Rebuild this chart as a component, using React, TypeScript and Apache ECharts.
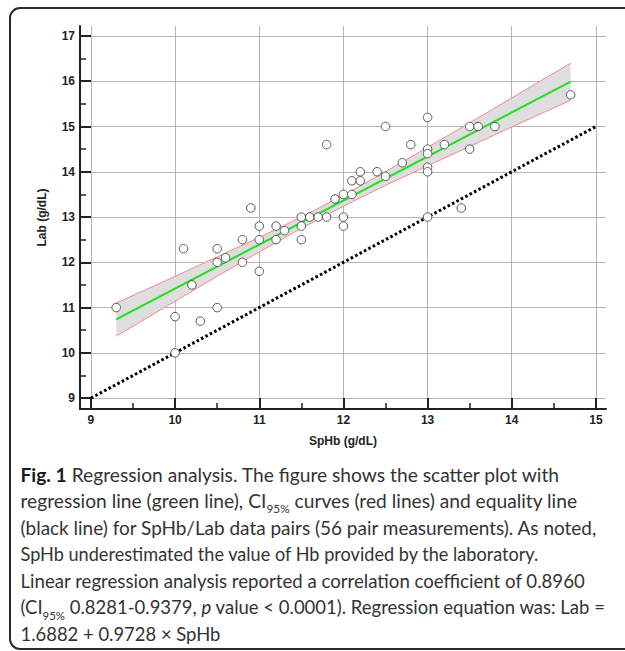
import React, { useEffect, useRef } from 'react';
import * as echarts from 'echarts';

// ---------- data ----------
const xMajorTicks = [9, 10, 11, 12, 13, 14, 15];
const xMinorTicks = [9.5, 10.5, 11.5, 12.5, 13.5, 14.5];
const yMajorTicks = [9, 10, 11, 12, 13, 14, 15, 16, 17];
const yMinorTicks = [9.5, 10.5, 11.5, 12.5, 13.5, 14.5, 15.5, 16.5];

const spHb = [
  9.3, 10.0, 10.0, 10.1, 10.2, 10.3, 10.5, 10.5, 10.5, 10.6,
  10.8, 10.8, 10.9, 11.0, 11.0, 11.0, 11.2, 11.2, 11.3, 11.5,
  11.5, 11.5, 11.6, 11.7, 11.8, 11.8, 11.9, 12.0, 12.0, 12.0,
  12.1, 12.1, 12.2, 12.2, 12.4, 12.5, 12.5, 12.7, 12.8, 13.0,
  13.0, 13.0, 13.0, 13.0, 13.0, 13.2, 13.4, 13.5, 13.5, 13.6,
  13.8, 14.7,
];
const lab = [
  11.0, 10.8, 10.0, 12.3, 11.5, 10.7, 12.3, 12.0, 11.0, 12.1,
  12.5, 12.0, 13.2, 12.8, 12.5, 11.8, 12.8, 12.5, 12.7, 13.0,
  12.8, 12.5, 13.0, 13.0, 13.0, 14.6, 13.4, 13.5, 13.0, 12.8,
  13.5, 13.8, 13.8, 14.0, 14.0, 13.9, 15.0, 14.2, 14.6, 15.2,
  14.5, 14.4, 14.1, 14.0, 13.0, 14.6, 13.2, 15.0, 14.5, 15.0,
  15.0, 15.7,
];

const ciX = [9.3, 10.0, 10.5, 11.0, 11.5, 12.0, 12.5, 13.0, 13.5, 14.0, 14.7];
const ciUpper = [11.10, 11.69, 12.12, 12.55, 13.00, 13.48, 14.00, 14.54, 15.08, 15.63, 16.40];
const ciLower = [10.37, 11.14, 11.69, 12.23, 12.75, 13.24, 13.70, 14.13, 14.56, 14.99, 15.58];

const regX = [9.3, 14.7];
const regY = [10.74, 15.99];

const eqX = [9, 15];
const eqY = [9, 15];

const captionLines = [
  '{b|Fig. 1} Regression analysis. The figure shows the scatter plot with',
  'regression line (green line), CI{sub|95%} curves (red lines) and equality line',
  '(black line) for SpHb/Lab data pairs (56 pair measurements). As noted,',
  'SpHb underestimated the value of Hb provided by the laboratory.',
  'Linear regression analysis reported a correlation coefficient of 0.8960',
  '(CI{sub|95%} 0.8281-0.9379, {i|p} value < 0.0001). Regression equation was: Lab =',
  '1.6882 + 0.9728 × SpHb',
];

// ---------- styling / layout ----------
const AXIS_FONT = "'Liberation Sans', Arial, sans-serif";
const CAP_FONT = 'Lato';
const CAP_SIZE = 19.5;
const SUB_SIZE = 12;
const CAP_X = 20.5;
const CAP_Y0 = 474;
const CAP_PITCH = 26.5;
// rendered width of each caption line in the reference (layout fitting)
const CAP_WIDTHS = [540, 557, 578, 519.5, 565.5, 585.5, 200];

const zip = (xs: number[], ys: number[]) => xs.map((x, i) => [x, ys[i]]);

const tokFonts: Record<string, string> = {
  n: `normal normal ${CAP_SIZE}px ${CAP_FONT}`,
  b: `normal bold ${CAP_SIZE}px ${CAP_FONT}`,
  i: `italic normal ${CAP_SIZE}px ${CAP_FONT}`,
  sub: `normal normal ${SUB_SIZE}px ${CAP_FONT}`,
};

function measureRich(text: string) {
  const ctx = document.createElement('canvas').getContext('2d');
  if (!ctx) return 0;
  const re = /\{(\w+)\|([^}]*)\}|([^{]+)/g;
  let m: RegExpExecArray | null;
  let w = 0;
  while ((m = re.exec(text))) {
    const style = m[1] || 'n';
    const s = m[1] ? m[2] : m[3];
    ctx.font = tokFonts[style] || tokFonts.n;
    w += ctx.measureText(s).width;
  }
  return w;
}

function buildOption() {
  const baseTok = { fontFamily: CAP_FONT, fontSize: CAP_SIZE, fontWeight: 'normal', fontStyle: 'normal', fill: '#333' };
  const rich = {
    n: { ...baseTok },
    b: { ...baseTok, fontWeight: 'bold', fill: '#1a1a1a' },
    i: { ...baseTok, fontStyle: 'italic' },
    sub: { ...baseTok, fontSize: SUB_SIZE, padding: [16, 0, 0, 0] },
  };

  const captionEls = captionLines.map((t, i) => {
    const mw = measureRich(t);
    const sx = mw > 0 ? CAP_WIDTHS[i] / mw : 0.9;
    return {
      type: 'text',
      x: CAP_X,
      y: CAP_Y0 + i * CAP_PITCH,
      scaleX: sx,
      silent: true,
      style: {
        text: t,
        ...baseTok,
        verticalAlign: 'middle',
        align: 'left',
        rich,
      },
    };
  });

  const axisTitle = { fontFamily: AXIS_FONT, fontSize: 12, fontWeight: 'bold', color: '#222' };
  const lineCol = '#222';

  const minorAxisBase = {
    type: 'value',
    axisLine: { show: false },
    axisLabel: { show: false },
    splitLine: { show: false },
  };

  return {
    animation: false,
    backgroundColor: '#ffffff',
    grid: { left: 80, right: 19, top: 26, bottom: 242, containLabel: false },
    xAxis: [
      {
        type: 'value',
        min: 8.87,
        max: 15.12,
        position: 'bottom',
        name: 'SpHb (g/dL)',
        nameLocation: 'middle',
        nameGap: 26,
        nameTextStyle: axisTitle,
        axisLine: { show: true, onZero: false, lineStyle: { color: lineCol, width: 2 } },
        axisTick: { show: true, inside: true, length: 11, customValues: xMajorTicks, lineStyle: { color: lineCol, width: 2 } },
        axisLabel: { customValues: xMajorTicks, margin: 5, fontFamily: AXIS_FONT, fontSize: 12, fontWeight: 'bold', color: '#222' },
        splitLine: { show: true, lineStyle: { color: '#b5b5b5', width: 1 } },
      },
      {
        ...minorAxisBase,
        min: 8.87,
        max: 15.12,
        position: 'bottom',
        axisTick: { show: true, inside: true, length: 6, customValues: xMinorTicks, lineStyle: { color: lineCol, width: 1.5 } },
      },
    ],
    yAxis: [
      {
        type: 'value',
        min: 8.76,
        max: 17.22,
        position: 'left',
        name: 'Lab (g/dL)',
        nameLocation: 'middle',
        nameGap: 32,
        nameTextStyle: axisTitle,
        axisLine: { show: true, onZero: false, lineStyle: { color: lineCol, width: 2 } },
        axisTick: { show: true, inside: true, length: 11, customValues: yMajorTicks, lineStyle: { color: lineCol, width: 2 } },
        axisLabel: { customValues: yMajorTicks, margin: 5, fontFamily: AXIS_FONT, fontSize: 12, fontWeight: 'bold', color: '#222' },
        splitLine: { show: true, lineStyle: { color: '#b5b5b5', width: 1 } },
      },
      {
        ...minorAxisBase,
        min: 8.76,
        max: 17.22,
        position: 'left',
        axisTick: { show: true, inside: true, length: 6, customValues: yMinorTicks, lineStyle: { color: lineCol, width: 1.5 } },
      },
    ],
    series: [
      {
        type: 'custom',
        name: 'CI band',
        silent: true,
        z: 1,
        data: [[ciX[0], ciLower[0]]],
        renderItem: (_params: any, api: any) => {
          const pts: number[][] = [];
          for (let i = 0; i < ciX.length; i++) pts.push(api.coord([ciX[i], ciUpper[i]]));
          for (let i = ciX.length - 1; i >= 0; i--) pts.push(api.coord([ciX[i], ciLower[i]]));
          return { type: 'polygon', shape: { points: pts }, style: { fill: '#dedede', stroke: 'none' } };
        },
      },
      {
        type: 'line',
        name: 'CI upper',
        data: zip(ciX, ciUpper),
        symbol: 'none',
        silent: true,
        z: 2,
        lineStyle: { color: '#f08a8a', width: 1 },
      },
      {
        type: 'line',
        name: 'CI lower',
        data: zip(ciX, ciLower),
        symbol: 'none',
        silent: true,
        z: 2,
        lineStyle: { color: '#f08a8a', width: 1 },
      },
      {
        type: 'line',
        name: 'Regression',
        data: zip(regX, regY),
        symbol: 'none',
        silent: true,
        z: 3,
        lineStyle: { color: '#1fe01f', width: 2 },
      },
      {
        type: 'line',
        name: 'Equality',
        data: zip(eqX, eqY),
        symbol: 'none',
        silent: true,
        z: 3,
        lineStyle: { color: '#000', width: 3, type: [2.6, 2.4] },
      },
      {
        type: 'scatter',
        name: 'Pairs',
        data: zip(spHb, lab),
        symbol: 'circle',
        symbolSize: 8.5,
        z: 5,
        itemStyle: { color: '#ffffff', borderColor: '#555', borderWidth: 1, opacity: 1 },
      },
    ],
    graphic: [
      {
        type: 'rect',
        silent: true,
        z: -1,
        shape: { x: 10, y: 8, width: 640, height: 641, r: 10 },
        style: { fill: 'none', stroke: '#2a2a2a', lineWidth: 2 },
      },
      ...captionEls,
    ],
  };
}

export default function App() {
  const ref = useRef<HTMLDivElement>(null);
  useEffect(() => {
    if (!ref.current) return;
    const chart = echarts.init(ref.current, null, { renderer: 'svg' });
    chart.setOption(buildOption() as any);
    return () => chart.dispose();
  }, []);
  return (
    <div
      ref={ref}
      style={{ position: 'absolute', left: 0, top: 0, width: 625, height: 651, background: '#fff' }}
    />
  );
}
